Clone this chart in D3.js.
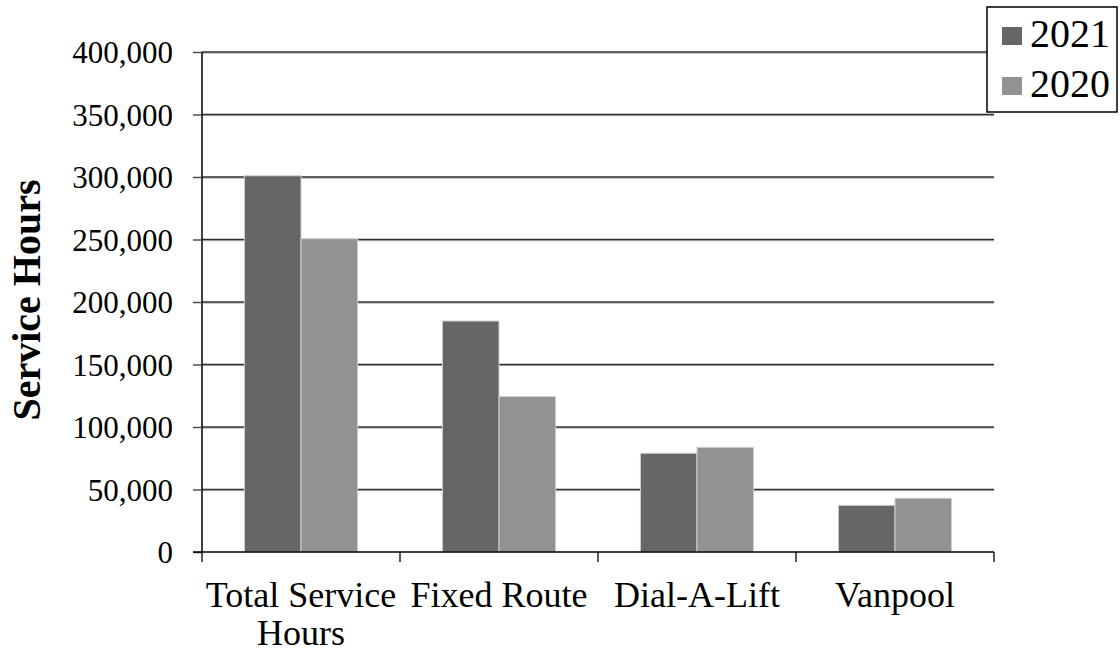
<!DOCTYPE html>
<html>
<head>
<meta charset="utf-8">
<script src="https://cdn.jsdelivr.net/npm/d3@7"></script>
<style>
  html, body { margin: 0; padding: 0; background: #fff; }
  svg { display: block; font-family: "Liberation Serif", "Times New Roman", serif; }
</style>
</head>
<body>
<svg id="chart" width="1120" height="652"></svg>
<script>
// Service hours by mode, two years
const categories = [["Total Service", "Hours"], ["Fixed Route"], ["Dial-A-Lift"], ["Vanpool"]];
const seriesNames = ["2021", "2020"];
const values2021 = [301000, 184800, 79000, 37300];
const values2020 = [250600, 124300, 83700, 43000];
const yTicks = [0, 50000, 100000, 150000, 200000, 250000, 300000, 350000, 400000];
const colors = ["#666666", "#929292"];

const series = [values2021, values2020];
const svg = d3.select("#chart");
const m = { left: 202, right: 994, top: 52, bottom: 552 };

const x0 = d3.scaleBand()
  .domain(d3.range(categories.length))
  .range([m.left, m.right])
  .paddingInner(0)
  .paddingOuter(0);

// bars occupy 2 units, gap 1.5 units (150% gap width)
const groupW = x0.bandwidth() * 2 / 3.5;
const x1 = d3.scaleBand()
  .domain(d3.range(seriesNames.length))
  .range([0, groupW])
  .padding(0);

const y = d3.scaleLinear().domain([0, 400000]).range([m.bottom, m.top]);

// gridlines
const grid = svg.append("g");
yTicks.filter(t => t > 0).forEach(t => {
  grid.append("line")
    .attr("x1", m.left).attr("x2", m.right)
    .attr("y1", y(t) + 1.2).attr("y2", y(t) + 1.2)
    .attr("stroke", "#b0b0b0").attr("stroke-width", 1);
  grid.append("line")
    .attr("x1", m.left).attr("x2", m.right)
    .attr("y1", y(t)).attr("y2", y(t))
    .attr("stroke", "#2e2e2e").attr("stroke-width", 1.5);
});

// bars
const groups = svg.append("g").selectAll("g")
  .data(categories)
  .join("g")
  .attr("transform", (d, i) => `translate(${x0(i) + (x0.bandwidth() - groupW) / 2},0)`);

groups.selectAll("rect")
  .data((d, i) => series.map((s, k) => ({ k, v: s[i] })))
  .join("rect")
  .attr("x", d => x1(d.k))
  .attr("y", d => y(d.v))
  .attr("width", x1.bandwidth())
  .attr("height", d => y(0) - y(d.v))
  .attr("fill", d => colors[d.k])
  .attr("stroke", "#cfcfcf")
  .attr("stroke-width", 1);

// y axis
const yAxis = d3.axisLeft(y)
  .tickValues(yTicks)
  .tickSize(9)
  .tickPadding(20)
  .tickFormat(d3.format(","));
const gy = svg.append("g").attr("transform", `translate(${m.left},0)`).call(yAxis);
gy.attr("font-family", null);
gy.select(".domain").attr("stroke", "#000").attr("stroke-width", 1.5).attr("d", `M-0,${m.top}V${m.bottom}`);
gy.selectAll(".tick line").attr("stroke", "#444").attr("stroke-width", 1.4);
gy.selectAll(".tick text")
  .attr("font-family", "Liberation Serif, Times New Roman, serif")
  .attr("font-size", 31)
  .attr("fill", "#000")
  .attr("dy", "0.34em");

// x axis with boundary ticks
const gx = svg.append("g");
gx.append("line")
  .attr("x1", m.left - 9).attr("x2", m.right)
  .attr("y1", m.bottom).attr("y2", m.bottom)
  .attr("stroke", "#000").attr("stroke-width", 1.5);
d3.range(categories.length + 1).forEach(i => {
  const xx = i < categories.length ? x0(i) : m.right;
  gx.append("line")
    .attr("x1", xx).attr("x2", xx)
    .attr("y1", m.bottom).attr("y2", m.bottom + 10)
    .attr("stroke", "#000").attr("stroke-width", 1.3);
});

const labels = svg.append("g").selectAll("text")
  .data(categories)
  .join("text")
  .attr("x", (d, i) => x0(i) + x0.bandwidth() / 2)
  .attr("y", 607)
  .attr("text-anchor", "middle")
  .attr("font-size", 36)
  .attr("fill", "#000");
labels.selectAll("tspan")
  .data(d => d)
  .join("tspan")
  .attr("x", function () { return this.parentNode.getAttribute("x"); })
  .attr("dy", (d, j) => j === 0 ? 0 : 38)
  .text(d => d);

// y-axis title
svg.append("text")
  .attr("transform", `translate(40,${(183 + 417) / 2}) rotate(-90)`)
  .attr("text-anchor", "middle")
  .attr("font-size", 40)
  .attr("font-weight", "bold")
  .attr("fill", "#000")
  .text("Service Hours");

// legend
const lg = svg.append("g");
lg.append("rect")
  .attr("x", 987).attr("y", 7)
  .attr("width", 130).attr("height", 105)
  .attr("fill", "#fff")
  .attr("stroke", "#000").attr("stroke-width", 1.5);
seriesNames.forEach((name, i) => {
  lg.append("rect")
    .attr("x", 1002).attr("y", 27 + i * 50)
    .attr("width", 20).attr("height", 18)
    .attr("fill", colors[i]);
  lg.append("text")
    .attr("x", 1030).attr("y", 47 + i * 50)
    .attr("font-size", 40)
    .attr("fill", "#000")
    .text(name);
});
</script>
</body>
</html>
